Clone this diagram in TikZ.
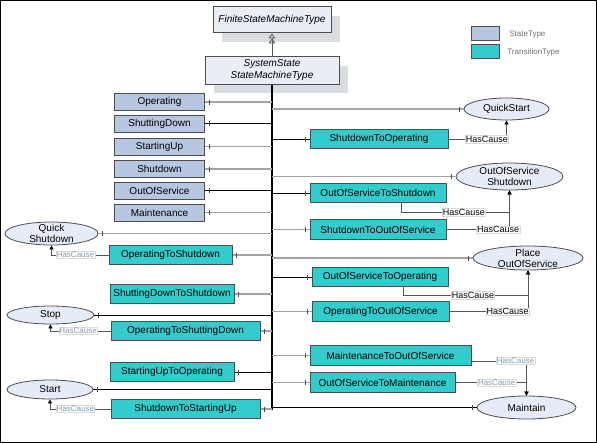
\documentclass[tikz,border=0pt]{standalone}
\usepackage{fontspec}
\setmainfont{Liberation Sans}
\usetikzlibrary{arrows.meta, shapes.geometric, shadows, decorations.markings}
\definecolor{cstate}{HTML}{B8C7E1}
\definecolor{ctrans}{HTML}{33CCCC}
\definecolor{cellip}{HTML}{E6ECF7}
\definecolor{ctitle}{HTML}{E8EDF6}
\definecolor{cshadow}{HTML}{D9DCE1}
\definecolor{cborder}{HTML}{4D4D4D}
\definecolor{clink}{HTML}{A3A3A3}
\definecolor{ccause}{HTML}{555555}
\definecolor{cpale}{HTML}{8A98AC}
\tikzset{
  every picture/.style={font=\fontsize{10}{11}\selectfont, line width=0.8pt},
  state/.style={draw=cborder, fill=cstate, line width=1pt, minimum width=#1, minimum height=17pt, inner sep=0pt},
  state/.default=90pt,
  trans/.style={draw=cborder, fill=ctrans, line width=1pt, minimum width=#1, minimum height=19.5pt, inner sep=0pt},
  event/.style 2 args={ellipse, draw=cborder, fill=cellip, line width=0.8pt, minimum width=#1, minimum height=#2, inner sep=0pt, align=center},
  title/.style={draw=cborder, fill=ctitle, line width=1pt, align=center, inner sep=0pt, font=\fontsize{10}{12}\selectfont\itshape,
    drop shadow={shadow xshift=9pt, shadow yshift=-9pt, fill=cshadow, opacity=1}},
  endtick/.style={postaction={decorate}, decoration={markings, mark=at position -4pt with {\draw[black!70, line width=0.6pt] (0,-2.5pt) -- (0,2.5pt);}}},
  link/.style={draw=black, line width=0.7pt, endtick},
  linkg/.style={draw=clink, line width=1.3pt, endtick},
  bus/.style={draw=black, line width=1.8pt},
  inherit/.style={draw=black!65, line width=0.8pt, -{Triangle[open, length=5pt, width=7pt] Triangle[open, length=5pt, width=7pt]}},
  cause/.style={draw=ccause, line width=0.8pt, -{Triangle[length=4pt, width=4pt, color=black]}},
  hc/.style={fill=white, draw=black!15, line width=0.4pt, inner sep=0.6pt, font=\fontsize{9}{10}\selectfont},
  hclt/.style={hc, text=cpale, font=\fontsize{8}{9}\selectfont},
  legend/.style={font=\fontsize{8}{9}\selectfont, text=black!55, anchor=west, inner sep=0pt},
}

\begin{document}
\begin{tikzpicture}[x=1pt, y=-1pt]
  \useasboundingbox (0,0) rectangle (597,444);
  \draw[line width=1.2pt] (0.6,0.6) rectangle (596.4,442.6);

  % type hierarchy
  \node[title, minimum width=118pt, minimum height=26pt] (fsm) at (272,20) {FiniteStateMachineType};
  \node[title, minimum width=134pt, minimum height=27pt] (sys) at (272,70.5) {SystemState\\StateMachineType};
  \draw[inherit] (sys) -- (fsm);

  % legend
  \node[state=28pt, minimum height=14pt] (lgState) at (485,34) {};
  \node[trans=28pt, minimum height=14pt] (lgTrans) at (485,52) {};
  \node[legend] (lgStateTxt) at (509,35) {StateType};
  \node[legend] (lgTransTxt) at (507,52) {TransitionType};

  % states
  \foreach \n/\t/\y in {operating/Operating/102, shuttingDown/ShuttingDown/123.5, startingUp/StartingUp/146.5,
      shutdown/Shutdown/169, outOfService/OutOfService/190.5, maintenance/Maintenance/212.5}
    \node[state] (\n) at (159.5,\y) {\t};

  % transitions, left
  \node[trans=123pt] (opShut) at (170.5,255) {OperatingToShutdown};
  \node[trans=124pt] (sdShut) at (172,294) {ShuttingDownToShutdown};
  \node[trans=149pt] (opSd) at (185.5,331) {OperatingToShuttingDown};
  \node[trans=124pt] (suOp) at (172,372) {StartingUpToOperating};
  \node[trans=149pt] (shutSu) at (185.5,409) {ShutdownToStartingUp};

  % transitions, right
  \node[trans=138pt] (shutOp) at (379,139) {ShutdownToOperating};
  \node[trans=136pt] (oosShut) at (378,193) {OutOfServiceToShutdown};
  \node[trans=136pt] (shutOos) at (378,229.5) {ShutdownToOutOfService};
  \node[trans=136pt] (oosOp) at (380,277) {OutOfServiceToOperating};
  \node[trans=137pt] (opOos) at (380.5,311.5) {OperatingToOutOfService};
  \node[trans=161pt] (maintOos) at (390.5,355.5) {MaintenanceToOutOfService};
  \node[trans=145pt] (oosMaint) at (382.5,382.5) {OutOfServiceToMaintenance};

  % causes
  \node[event={85pt}{22pt}] (qStart) at (506.5,109) {QuickStart};
  \node[event={107pt}{27pt}, inner ysep=-5pt] (oosSd) at (509.5,176.5) {OutOfService\\Shutdown};
  \node[event={93pt}{23pt}, inner ysep=-5pt] (qShut) at (51.5,233.5) {Quick\\Shutdown};
  \node[event={110pt}{24pt}, inner ysep=-5pt] (placeOos) at (528,258) {Place\\OutOfService};
  \node[event={87pt}{18pt}] (stop) at (50.5,315) {Stop};
  \node[event={86pt}{19pt}] (start) at (50,389.5) {Start};
  \node[event={99pt}{23pt}] (maintain) at (526.5,407.5) {Maintain};

  % bus
  \coordinate (bus) at (sys.south);
  \coordinate (busEnd) at (272,409.5);
  \draw[bus] (bus) -- (busEnd);
  \foreach \n/\s in {operating/linkg, shuttingDown/link, startingUp/linkg, shutdown/linkg, outOfService/link,
      maintenance/linkg, qShut/linkg, opShut/linkg, sdShut/linkg, stop/link, opSd/linkg, suOp/link, start/link, shutSu/linkg}
    \draw[\s] (\n.east -| bus) -- (\n.east);
  \foreach \n/\s in {qStart/linkg, shutOp/link, oosSd/linkg, oosShut/link, shutOos/linkg, placeOos/linkg,
      oosOp/link, opOos/linkg, maintOos/linkg, oosMaint/linkg, maintain/link}
    \draw[\s] (\n.west -| bus) -- (\n.west);

  % HasCause
  \draw[cause] (shutOp.east) -| node[hc, pos=0.33] (hc1) {HasCause} (qStart.south);
  \draw[cause] ([xshift=23pt]oosShut.south) -- ++(0,9) -| node[hc, pos=0.29] (hc2) {HasCause} (oosSd.south);
  \draw[cause] (shutOos.east) -| node[hc, pos=0.41] (hc3) {HasCause} (oosSd.south);
  \draw[cause] ([xshift=23pt]oosOp.south) -- ++(0,8) -| node[hc, pos=0.28] (hc4) {HasCause} (placeOos.south);
  \draw[cause] (opOos.east) -| node[hc, pos=0.37] (hc5) {HasCause} (placeOos.south);
  \draw[cause] ([yshift=-5.5pt]maintOos.east) -| node[hclt, pos=0.4] (hc6) {HasCause} (maintain.north);
  \draw[cause] (oosMaint.east) -| node[hclt, pos=0.29] (hc7) {HasCause} (maintain.north);
  \draw[cause] (opShut.west) -| node[hclt, pos=0.29] (hc8) {HasCause} (qShut.south);
  \draw[cause] (opSd.west) -| node[hclt, pos=0.27] (hc9) {HasCause} (stop.south);
  \draw[cause] (shutSu.west) -| node[hclt, pos=0.29] (hc10) {HasCause} (start.south);
\end{tikzpicture}
\end{document}
